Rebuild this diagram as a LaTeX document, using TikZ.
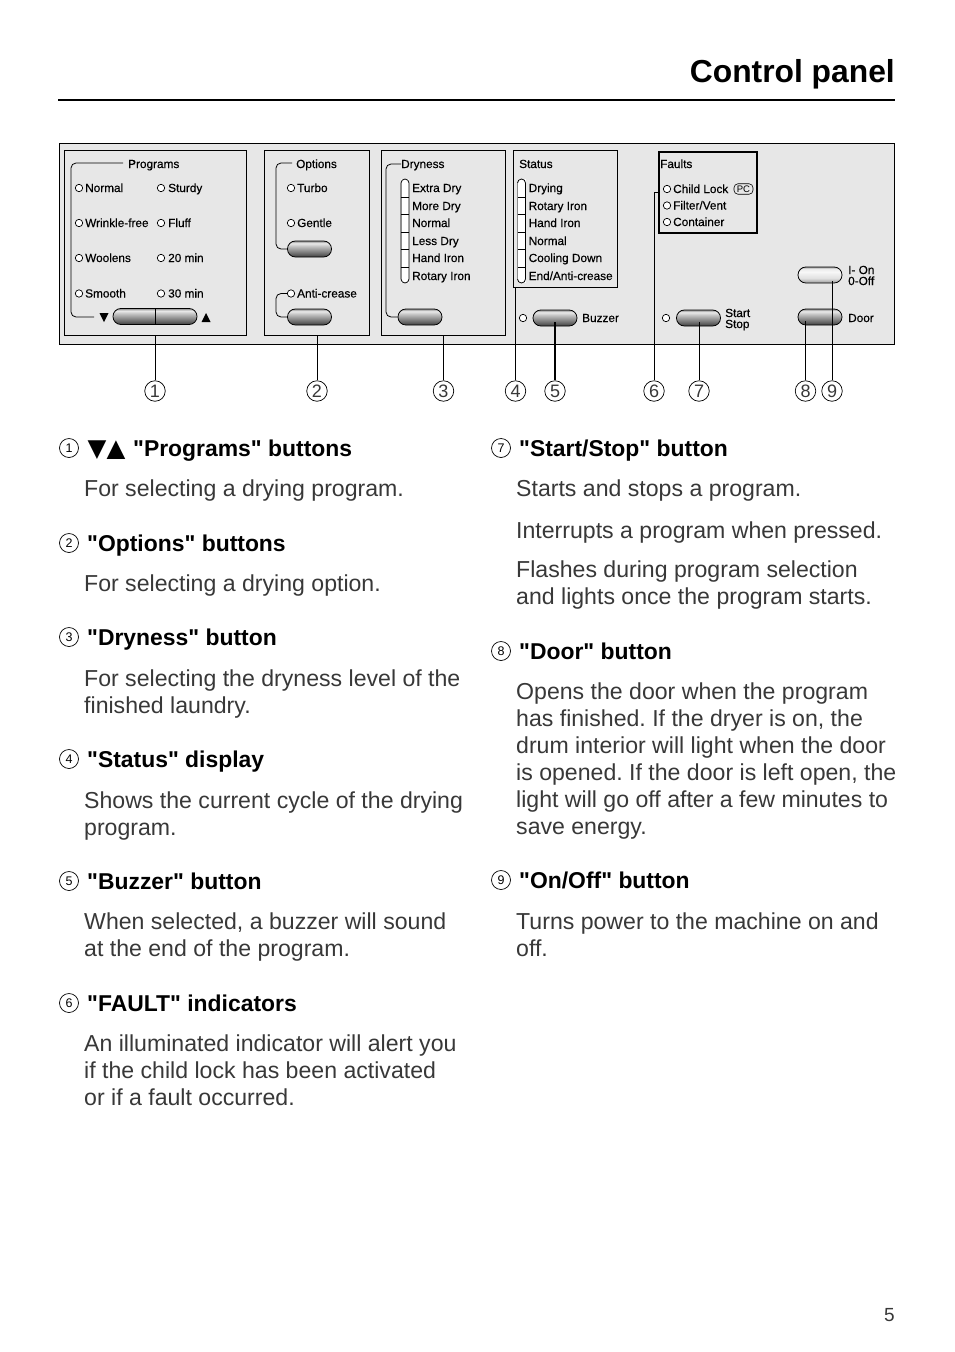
\documentclass[tikz,border=0pt]{standalone}
\usepackage{fontspec}
\setmainfont{Liberation Sans}[Ligatures=TeXOff]
\newfontfamily\symfont{DejaVu Sans}
\newfontface\panelfont{Liberation Sans}[FakeBold=0.25]
\frenchspacing
\definecolor{panelbg}{gray}{0.905}
\definecolor{bodyink}{gray}{0.22}
\pgfdeclareverticalshading{btnshade}{100bp}{color(0bp)=(black!75);color(25bp)=(black!75);color(38bp)=(black!55);color(58bp)=(black!25);color(68bp)=(black!8);color(75bp)=(black!45);color(100bp)=(black!45)}
\pgfdeclareverticalshading{btnlight}{100bp}{color(0bp)=(black!40);color(25bp)=(black!40);color(40bp)=(black!12);color(60bp)=(black!3);color(70bp)=(black!8);color(75bp)=(black!40);color(100bp)=(black!40)}
\newcounter{tn}
\tikzset{
  panelbox/.style={draw=black,line width=0.9pt,fill=panelbg,inner sep=0,anchor=north west},
  btn/.style={draw=black,line width=0.8pt,rounded corners=7.9pt,shading=btnshade,minimum width=44pt,minimum height=16pt,inner sep=0},
  btnon/.style={btn,shading=btnlight},
  led/.style={circle,draw=black,line width=0.7pt,fill=white,minimum size=7.4pt,inner sep=0},
  small/.style={anchor=base west,inner sep=0,font=\fontsize{11.8}{12}\panelfont},
  leader/.style={draw=black,line width=0.8pt},
  bracket/.style={draw=black,line width=0.8pt,rounded corners=5pt},
  callout/.style={circle,draw=black,line width=0.7pt,minimum size=20.5pt,inner sep=0,text=bodyink,font=\fontsize{18}{18}\selectfont,fill=white},
  numdot/.style={circle,draw=black,line width=0.7pt,minimum size=19pt,inner sep=0,font=\fontsize{12.5}{13}\selectfont},
  head/.style={anchor=base west,inner sep=0,font=\fontsize{22.9}{27}\selectfont\bfseries},
  body/.style={anchor=base west,inner sep=0,text=bodyink,font=\fontsize{23.1}{27}\selectfont},
}
\newcommand\plabel[3]{\stepcounter{tn}\node[small] (p\thetn) at (#1,#2+4) {#3};}
\newcommand\bline[3]{\stepcounter{tn}\node[body] (b\thetn) at (#1,#2-0.8) {#3};}
\newcommand\headline[5]{\stepcounter{tn}\node[numdot] (n\thetn) at (#1,#2-9) {#3};\node[head] (h\thetn) at (#4,#2-0.8) {#5};}
\newcommand\ledlabel[4]{\stepcounter{tn}\node[led] (l\thetn) at (#1,#2) {};\plabel{#3}{#2}{#4}}
\newcommand\segbar[1]{%
  \fill[white] (#1,179) rectangle (#1+8,283);
  \draw[black,line width=0.8pt,rounded corners=4pt] (#1,183) -- (#1,179) -- (#1+8,179) -- (#1+8,283) -- (#1,283) -- (#1,279);
  \draw[black!45,line width=1.2pt] (#1,183) -- (#1,279);
  \foreach \yy in {197,214,232,249,267}{\draw[black,line width=0.7pt] (#1,\yy) -- (#1+8,\yy);}
}
\begin{document}
\begin{tikzpicture}[x=1pt,y=-1pt]
\useasboundingbox (0,0) rectangle (954,1352);
\fill[white] (0,0) rectangle (954,1352);
% title
\node[anchor=base east,inner sep=0,font=\fontsize{31.8}{36}\selectfont\bfseries] (title) at (895,82) {Control panel};
\coordinate (ruleL) at (58,100);
\coordinate (ruleR) at (895,100);
\draw[line width=1.8pt] (ruleL) -- (ruleR);
% panel
\node[panelbox,minimum width=835pt,minimum height=201pt] (panel) at (59,143) {};
\node[panelbox,minimum width=182pt,minimum height=185pt] (prog) at (64,150) {};
\node[panelbox,minimum width=105pt,minimum height=185pt] (opts) at (264,150) {};
\node[panelbox,minimum width=124pt,minimum height=185pt] (dry) at (381,150) {};
\node[panelbox,minimum width=104pt,minimum height=136.5pt] (stat) at (513,150) {};
\node[panelbox,line width=2pt,minimum width=98pt,minimum height=81pt] (faults) at (657.5,150.5) {};
% buttons
\node[btn,minimum width=84pt] (bprog) at (155,316.5) {};
\draw[black,line width=0.8pt] (bprog.north) -- (bprog.south);
\node[btn] (bopt) at (309.5,249) {};
\node[btn] (banti) at (309.5,317) {};
\node[btn] (bdry) at (420,317) {};
\node[btn] (bbuzz) at (555,318) {};
\node[btn] (bstart) at (698.5,318) {};
\node[btn] (bdoor) at (820,317) {};
\node[btnon] (bon) at (820,275) {};
% programs
\coordinate (progT) at (123,163);
\coordinate (progB) at (94,317);
\draw[bracket] (progT) -- (71,163) -- (71,317) -- (progB);
\plabel{128}{164}{Programs}
\ledlabel{79}{188}{85}{Normal}
\ledlabel{79}{223}{85}{Wrinkle-free}
\ledlabel{79}{258}{85}{Woolens}
\ledlabel{79}{293.5}{85}{Smooth}
\ledlabel{161}{188}{168}{Sturdy}
\ledlabel{161}{223}{168}{Fluff}
\ledlabel{161}{258}{168}{20 min}
\ledlabel{161}{293.5}{168}{30 min}
\fill (99.5,313) -- (108.5,313) -- (104,322) -- cycle;
\fill (201.5,322) -- (210.5,322) -- (206,313) -- cycle;
% options
\coordinate (optT) at (292,163);
\draw[bracket] (optT) -- (276,163) -- (276,249) -- (bopt.west);
\plabel{296}{164}{Options}
\ledlabel{291}{188}{297}{Turbo}
\ledlabel{291}{223}{297}{Gentle}
\node[led] (lanti) at (291,293.5) {};
\plabel{297}{293.5}{Anti-crease}
\draw[bracket] (lanti.west) -- (276,293.5) -- (276,317) -- (banti.west);
% dryness
\coordinate (dryT) at (401,164);
\draw[bracket] (dryT) -- (386,164) -- (386,317) -- (bdry.west);
\plabel{401}{164}{Dryness}
\segbar{401}
\plabel{412}{188}{Extra Dry}
\plabel{412}{206}{More Dry}
\plabel{412}{223}{Normal}
\plabel{412}{241}{Less Dry}
\plabel{412}{258}{Hand Iron}
\plabel{412}{276}{Rotary Iron}
% status
\plabel{519}{164}{Status}
\segbar{517.5}
\plabel{528.5}{188}{Drying}
\plabel{528.5}{206}{Rotary Iron}
\plabel{528.5}{223}{Hand Iron}
\plabel{528.5}{241}{Normal}
\plabel{528.5}{258}{Cooling Down}
\plabel{528.5}{276}{End/Anti-crease}
% buzzer
\node[led] (lbuzz) at (523,318) {};
\plabel{582}{318}{Buzzer}
% faults
\plabel{660}{164}{Faults}
\ledlabel{667}{189}{673}{Child Lock}
\ledlabel{667}{205.5}{673}{Filter/Vent}
\ledlabel{667}{222}{673}{Container}
\node[draw=black,line width=0.6pt,rounded corners=4pt,minimum width=19pt,minimum height=10.5pt,inner sep=0,font=\fontsize{9.5}{10}\selectfont] (pc) at (743.5,189) {PC};
% start stop door on
\node[led] (lstart) at (666,318) {};
\plabel{725}{313}{Start}
\plabel{725}{324}{Stop}
\plabel{848}{318}{Door}
\plabel{848}{270}{I- On}
\plabel{848}{281}{0-Off}
% callouts
\node[callout] (c1) at (155,391) {1};
\node[callout] (c2) at (317,391) {2};
\node[callout] (c3) at (443.5,391) {3};
\node[callout] (c4) at (515.5,391) {4};
\node[callout] (c5) at (555,391) {5};
\node[callout] (c6) at (654,391) {6};
\node[callout] (c7) at (699,391) {7};
\node[callout] (c8) at (805.5,391) {8};
\node[callout] (c9) at (832,391) {9};
\draw[leader] (prog.south -| c1) -- (c1);
\draw[leader] (opts.south -| c2) -- (c2);
\draw[leader] (dry.south -| c3) -- (c3);
\draw[leader] (stat.south -| c4) -- (c4);
\draw[leader,line width=1.4pt] ([yshift=-4pt]bbuzz.center -| c5) -- (c5);
\coordinate (f6) at (658,192);
\draw[leader] (f6) -- (f6 -| c6) -- (c6);
\draw[leader] ([yshift=-4pt]bstart.center -| c7) -- (c7);
\draw[leader] ([yshift=-4pt]bdoor.center -| c8) -- (c8);
\draw[leader] ([yshift=-6pt]bon.center -| c9) -- (c9);
% left column
\headline{69}{457}{1}{133}{"Programs" buttons}
\node[anchor=base west,inner sep=0,font=\fontsize{24.5}{27}\symfont] (arrows) at (87.5,456.2) {▼▲};
\bline{84}{497}{For selecting a drying program.}
\headline{69}{552}{2}{87}{"Options" buttons}
\bline{84}{592}{For selecting a drying option.}
\headline{69}{646}{3}{87}{"Dryness" button}
\bline{84}{687}{For selecting the dryness level of the}
\bline{84}{714}{finished laundry.}
\headline{69}{768}{4}{87}{"Status" display}
\bline{84}{809}{Shows the current cycle of the drying}
\bline{84}{836}{program.}
\headline{69}{890}{5}{87}{"Buzzer" button}
\bline{84}{930}{When selected, a buzzer will sound}
\bline{84}{957}{at the end of the program.}
\headline{69}{1012}{6}{87}{"FAULT" indicators}
\bline{84}{1052}{An illuminated indicator will alert you}
\bline{84}{1079}{if the child lock has been activated}
\bline{84}{1106}{or if a fault occurred.}
% right column
\headline{501}{457}{7}{519}{"Start/Stop" button}
\bline{516}{497}{Starts and stops a program.}
\bline{516}{539}{Interrupts a program when pressed.}
\bline{516}{578}{Flashes during program selection}
\bline{516}{605}{and lights once the program starts.}
\headline{501}{660}{8}{519}{"Door" button}
\bline{516}{700}{Opens the door when the program}
\bline{516}{727}{has finished. If the dryer is on, the}
\bline{516}{754}{drum interior will light when the door}
\bline{516}{781}{is opened. If the door is left open, the}
\bline{516}{808}{light will go off after a few minutes to}
\bline{516}{835}{save energy.}
\headline{501}{889}{9}{519}{"On/Off" button}
\bline{516}{930}{Turns power to the machine on and}
\bline{516}{957}{off.}
\node[anchor=base east,inner sep=0,text=bodyink,font=\fontsize{19}{20}\selectfont] (pageno) at (895,1321) {5};
\end{tikzpicture}
\end{document}
